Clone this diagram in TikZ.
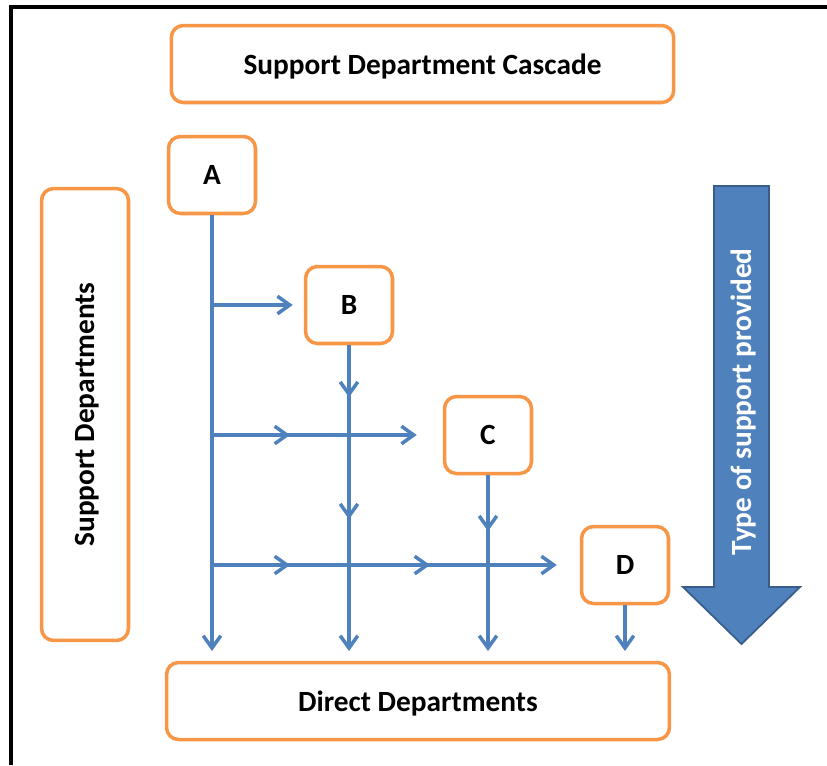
\documentclass[tikz,border=0pt]{standalone}
\usepackage{fontspec}
\setmainfont{Carlito}
\usepackage{tikz}
\usetikzlibrary{arrows.meta,calc,positioning}
\definecolor{deptorange}{HTML}{F79646}
\definecolor{flowblue}{HTML}{4F81BD}
\definecolor{flowdark}{HTML}{385D8A}
\tikzset{
  >={Straight Barb[length=7pt,width=10pt]}
}

\begin{document}
\begin{tikzpicture}[x=0.02cm,y=-0.02cm,
    dept/.style={rectangle,rounded corners=0.24cm,draw=deptorange,line width=2pt,fill=white,align=center,text depth=0pt,font=\fontsize{16.7}{20}\selectfont\bfseries},
    box/.style={dept,minimum width=1.74cm,minimum height=1.54cm},
    flow/.style={->,draw=flowblue,line width=2pt}]
        \useasboundingbox (0,0) rectangle (827,765);
        \draw[line width=2.3pt] (11,765) -- (11,7) -- (827,7);

        \node (title) at (422.5,64) [dept,minimum width=10.05cm,minimum height=1.54cm] {Support Department Cascade};
        \node (support) at (85,414.5) [dept,minimum width=1.74cm,minimum height=9.04cm] {};
        \node at (support.center) [rotate=90,text depth=0pt,font=\fontsize{16.7}{20}\selectfont\bfseries] {Support Departments};
        \node (direct) at (418,701) [dept,minimum width=10.06cm,minimum height=1.54cm] {Direct Departments};

        \node (A) at (212,175) [box] {A};
        \node (B) at (349,305) [box] {B};
        \node (C) at (488,435) [box] {C};
        \node (D) at (625,565) [box] {D};

        \coordinate (rowB) at (212,305);
        \coordinate (rowC) at (212,435);
        \coordinate (rowD) at (212,565);
        \coordinate (endA) at (212,651);
        \coordinate (endB) at (349,651);
        \coordinate (endC) at (488,651);
        \coordinate (endD) at (625,651);

        \draw[flow] (A) -- (endA);
        \draw[flow] (B) -- (endB);
        \draw[flow] (C) -- (endC);
        \draw[flow] (D) -- (endD);

        \draw[flow,shorten >=0.22cm] (rowB) -- (B);
        \draw[flow,shorten >=0.52cm] (rowC) -- (C);
        \draw[flow,shorten >=0.46cm] (rowD) -- (D);

        \draw[flow] (rowC) -- ++(78,0);
        \draw[flow] (rowD) -- ++(78,0);
        \draw[flow] (rowD) -- ++(218,0);
        \draw[flow] (B.south) -- ++(0,52);
        \draw[flow] (B.south) -- ++(0,174);
        \draw[flow] (C.south) -- ++(0,56);

        % big arrow on the right
        \draw[fill=flowblue,draw=flowdark,line width=1pt] (714,186) -- (769,186) -- (769,587) -- (800,587)
            -- (741.5,644) -- (683,587) -- (714,587) -- cycle;
        \node (type) at (741.5,402) [rotate=90,text=white,text depth=0pt,font=\fontsize{16.7}{20}\selectfont\bfseries] {Type of support provided};
    \end{tikzpicture}
\end{document}
